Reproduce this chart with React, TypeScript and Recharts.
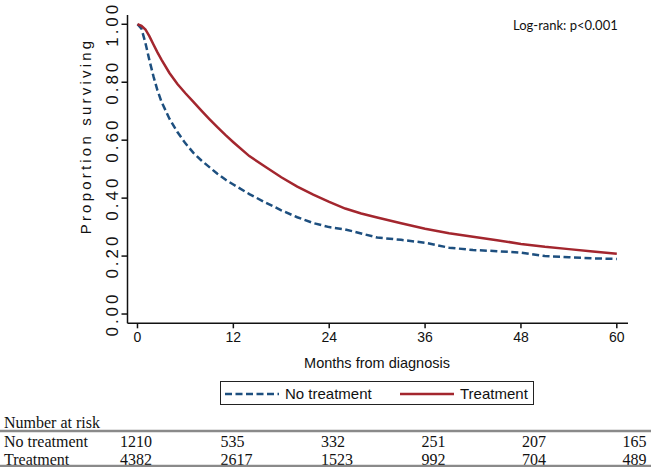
import { LineChart, Line, XAxis, YAxis, Legend } from "recharts";

// survival estimates (months from diagnosis)
const months = [0, 0.5, 1, 1.5, 2, 2.5, 3, 4, 5, 6, 7, 8, 9, 10, 11, 12, 14, 16, 18, 20, 22, 24, 26, 28, 30, 33, 36, 39, 42, 45, 48, 51, 54, 57, 60];
const noTreatment = [1.0, 0.985, 0.935, 0.875, 0.82, 0.772, 0.733, 0.674, 0.628, 0.589, 0.556, 0.53, 0.507, 0.484, 0.464, 0.447, 0.414, 0.385, 0.358, 0.334, 0.314, 0.3, 0.292, 0.278, 0.264, 0.256, 0.246, 0.229, 0.221, 0.217, 0.212, 0.2, 0.196, 0.192, 0.19];
const treatment = [1.0, 0.995, 0.982, 0.958, 0.93, 0.903, 0.878, 0.832, 0.794, 0.762, 0.732, 0.702, 0.673, 0.645, 0.618, 0.593, 0.545, 0.508, 0.472, 0.44, 0.412, 0.387, 0.364, 0.347, 0.333, 0.313, 0.294, 0.279, 0.267, 0.255, 0.242, 0.232, 0.224, 0.216, 0.208];

const xTicks = [0, 12, 24, 36, 48, 60];
const yTicks = [0, 0.2, 0.4, 0.6, 0.8, 1];

// number at risk table
const riskGroups = ["No treatment", "Treatment"];
const riskNoTreatment = [1210, 535, 332, 251, 207, 165];
const riskTreatment = [4382, 2617, 1523, 992, 704, 489];

const data = months.map((m, i) => ({ month: m, noTreatment: noTreatment[i], treatment: treatment[i] }));

const SANS = "'Liberation Sans', Arial, sans-serif";
const SERIF = "'Liberation Serif', 'Times New Roman', serif";
const RED = "#a3262e";
const BLUE = "#1d4f7f";

const YTick = (props: any) => {
  const { x, y, payload } = props;
  return (
    <text
      x={x - 1}
      y={y}
      transform={`rotate(-90 ${x - 1} ${y})`}
      textAnchor="middle"
      fontSize={17}
      letterSpacing={3}
      fill="#111"
      fontFamily={SANS}
    >
      {payload.value.toFixed(2)}
    </text>
  );
};

const YLabel = () => (
  <text x={91} y={136} transform="rotate(-90 91 136)" textAnchor="middle" fontSize={15} letterSpacing={3.2} fill="#111" fontFamily={SANS}>
    Proportion surviving
  </text>
);

const XLabel = () => (
  <text x={377} y={368} textAnchor="middle" fontSize={14.5} fill="#111" fontFamily={SANS}>
    Months from diagnosis
  </text>
);

const itemOffsets = [4, 179];

const renderLegend = (props: any) => {
  const { payload } = props;
  return (
    <div style={{ position: "relative", width: 312, height: 22, border: "1px solid #222", fontFamily: SANS, fontSize: 15, color: "#111" }}>
      {payload.map((entry: any, i: number) => (
        <div key={entry.value} style={{ position: "absolute", left: itemOffsets[i], top: 0, height: 22, display: "flex", alignItems: "center" }}>
          <svg width={54} height={22}>
            <line x1={0} y1={12} x2={54} y2={12} stroke={entry.color} strokeWidth={2.5} strokeDasharray={i === 0 ? "7 3.5" : undefined} />
          </svg>
          <span style={{ marginLeft: 6 }}>{entry.value}</span>
        </div>
      ))}
    </div>
  );
};

const colX = (i: number) => 120 + 100.5 * i;

const App = () => {
  return (
    <div style={{ position: "absolute", left: 0, top: 0, width: 651, height: 467, background: "#fff" }}>
      <LineChart width={651} height={467} data={data} margin={{ top: 15, right: 23, left: 0, bottom: 0 }}>
        <XAxis
          dataKey="month"
          type="number"
          domain={[-1.25, 61.4]}
          ticks={xTicks}
          tickSize={5}
          tickMargin={4}
          height={143.7}
          stroke="#111"
          strokeWidth={1.5}
          tick={{ fontSize: 14, fill: "#111", fontFamily: SANS }}
          label={{ content: XLabel }}
        />
        <YAxis
          type="number"
          domain={[-0.032, 1.032]}
          ticks={yTicks}
          tickSize={6}
          width={127.5}
          stroke="#111"
          strokeWidth={1.5}
          tick={YTick}
          label={{ content: YLabel }}
        />
        <Legend
          layout="horizontal"
          verticalAlign="middle"
          align="center"
          content={renderLegend}
          wrapperStyle={{ top: 381, left: 220, width: 314, height: 24 }}
        />
        <Line type="linear" dataKey="noTreatment" name="No treatment" stroke={BLUE} strokeWidth={2.5} strokeDasharray="7 3.5" dot={false} isAnimationActive={false} />
        <Line type="linear" dataKey="treatment" name="Treatment" stroke={RED} strokeWidth={2.5} dot={false} isAnimationActive={false} />
      </LineChart>

      <div style={{ position: "absolute", left: 513, top: 17, fontFamily: "Lato, 'Open Sans', sans-serif", fontSize: 13, color: "#111", whiteSpace: "nowrap" }}>
        Log-rank: p&lt;0.001
      </div>

      <svg width={651} height={60} style={{ position: "absolute", left: 0, top: 407 }}>
        <text x={4} y={21} fontSize={16} fontFamily={SERIF} fill="#111">Number at risk</text>
        <line x1={0} y1={24} x2={651} y2={24} stroke="#8a8a8a" strokeWidth={2.5} />
        {[riskNoTreatment, riskTreatment].map((row, r) => (
          <g key={riskGroups[r]}>
            <text x={4} y={40 + r * 17.8} fontSize={16} fontFamily={SERIF} fill="#111">{riskGroups[r]}</text>
            {row.map((n, i) => (
              <text key={i} x={colX(i)} y={40 + r * 17.8} fontSize={16} fontFamily={SERIF} fill="#111">{n}</text>
            ))}
          </g>
        ))}
        <line x1={0} y1={59} x2={651} y2={59} stroke="#8a8a8a" strokeWidth={2.5} />
      </svg>
    </div>
  );
};

export default App;
